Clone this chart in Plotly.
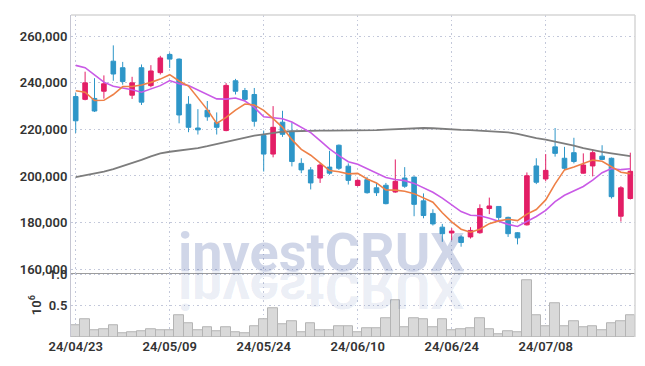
import plotly.graph_objects as go

dates = ["24/04/23", "24/04/24", "24/04/25", "24/04/26", "24/04/29", "24/04/30", "24/05/02", "24/05/03",
         "24/05/07", "24/05/08", "24/05/09", "24/05/10", "24/05/13", "24/05/14", "24/05/16", "24/05/17",
         "24/05/20", "24/05/21", "24/05/22", "24/05/23", "24/05/24", "24/05/27", "24/05/28", "24/05/29",
         "24/05/30", "24/05/31", "24/06/03", "24/06/04", "24/06/05", "24/06/07", "24/06/10", "24/06/11",
         "24/06/12", "24/06/13", "24/06/14", "24/06/17", "24/06/18", "24/06/19", "24/06/20", "24/06/21",
         "24/06/24", "24/06/25", "24/06/26", "24/06/27", "24/06/28", "24/07/01", "24/07/02", "24/07/03",
         "24/07/04", "24/07/05", "24/07/08", "24/07/09", "24/07/10", "24/07/11", "24/07/12", "24/07/15",
         "24/07/16", "24/07/17", "24/07/18", "24/07/19"]

open_ = [234100, 232900, 233300, 236400, 249300, 246500, 234700, 246500, 238800, 244400,
         252200, 250200, 230800, 220600, 228200, 223000, 219500, 240900, 236700, 235000,
         217400, 209400, 223100, 219200, 205400, 202600, 199100, 203800, 213200, 204200,
         195900, 198400, 194900, 196000, 193100, 199100, 199500, 189300, 183900, 178000,
         175500, 173800, 173800, 175600, 186000, 186900, 182200, 175600, 179000, 204300,
         198700, 212500, 207600, 210000, 201200, 204300, 208500, 207600, 182700, 190300]
high = [235700, 244800, 242000, 243200, 256100, 249000, 242600, 247900, 247600, 251600,
        252900, 250500, 234300, 228700, 232200, 227300, 239900, 241700, 237800, 237800,
        219500, 230000, 228000, 223000, 207600, 203800, 205500, 210800, 213500, 205400,
        198600, 199600, 197000, 197000, 207100, 203800, 199800, 192500, 185700, 179400,
        177600, 174500, 178000, 187800, 190700, 187000, 182500, 175900, 201500, 207600,
        209400, 220600, 212500, 216400, 209700, 211400, 213200, 207900, 195600, 210000]
low = [218500, 232500, 227500, 233200, 240900, 239200, 233100, 230500, 238100, 243600,
       246400, 222600, 218800, 217800, 223700, 217800, 219200, 235000, 232200, 221200,
       201900, 208000, 216800, 204100, 201200, 194200, 197000, 200500, 202600, 196300,
       195500, 192400, 191400, 187800, 192800, 194900, 182700, 181800, 178700, 171700,
       172400, 169600, 173100, 175200, 183600, 180800, 173800, 170600, 178700, 196500,
       197700, 208300, 202600, 205400, 201000, 199800, 206800, 190300, 180400, 189900]
close = [223700, 240000, 227900, 239600, 243800, 240600, 240000, 231700, 245100, 250700,
         250200, 226200, 220900, 219800, 225400, 220900, 238900, 236400, 232900, 223500,
         209400, 220900, 217900, 206200, 202600, 197000, 204700, 201200, 203300, 198100,
         198100, 192800, 192800, 188100, 197700, 195600, 187800, 183000, 179400, 175200,
         176300, 171400, 176600, 186000, 187100, 182200, 175200, 173400, 200100, 197300,
         202400, 209700, 203300, 206200, 204700, 210000, 207100, 191100, 194900, 202000]

ma5 = [236600, 236000, 232400, 232500, 235000, 238400, 238400, 239100, 240200, 241600,
       243500, 240800, 238600, 233600, 228500, 222600, 225200, 228300, 230900, 230500,
       228200, 224600, 220900, 215600, 211400, 208900, 205700, 202300, 201800, 200900,
       201100, 198700, 197000, 194000, 193900, 193400, 192400, 190400, 188700, 184200,
       180300, 177100, 175800, 177100, 179500, 180700, 181400, 180800, 183600, 185600,
       189700, 196600, 202600, 203800, 205300, 206800, 206300, 203800, 201600, 201000]
ma10 = [247500, 246500, 243400, 240300, 238500, 237800, 237000, 236000, 237500, 238800,
        241000, 239600, 238900, 236900, 235100, 233100, 233000, 233500, 232200, 229500,
        225400, 224900, 224600, 223200, 221000, 218600, 215200, 211600, 208700, 206100,
        205000, 203000, 201000, 199300, 198500, 198000, 196800, 195000, 193000, 190500,
        187500, 184700, 183100, 182900, 181800, 180500, 179200, 178300, 180400, 182600,
        185200, 189000, 191700, 193700, 195500, 198200, 201400, 203200, 202700, 203100]
ma_long = [199500, 200200, 201000, 201900, 202900, 204200, 205400, 206900, 208400, 209700,
           210400, 210900, 211400, 212000, 212800, 213700, 214700, 215600, 216400, 217300,
           217900, 218500, 219000, 219200, 219400, 219500, 219500, 219500, 219500, 219500,
           219500, 219600, 219700, 219900, 220100, 220400, 220500, 220600, 220500, 220200,
           220000, 219800, 219700, 219500, 219400, 219200, 218700, 218100, 217100, 216200,
           215600, 214800, 213900, 213000, 212000, 211100, 210300, 209700, 209000, 208500]

volume_m = [0.185, 0.277, 0.108, 0.123, 0.185, 0.062, 0.077, 0.092, 0.123, 0.108,
            0.108, 0.354, 0.215, 0.108, 0.154, 0.092, 0.154, 0.077, 0.062, 0.169,
            0.292, 0.462, 0.200, 0.246, 0.077, 0.215, 0.108, 0.108, 0.169, 0.169,
            0.077, 0.138, 0.138, 0.308, 0.585, 0.154, 0.308, 0.292, 0.154, 0.292,
            0.108, 0.123, 0.138, 0.308, 0.123, 0.046, 0.092, 0.077, 0.908, 0.343,
            0.174, 0.538, 0.174, 0.246, 0.154, 0.174, 0.108, 0.215, 0.246, 0.343]

price_ticks = [160000, 180000, 200000, 220000, 240000, 260000]
vol_ticks = [0.5, 1.0]
date_ticks = dates[::10]

PINK = "#e31e66"
BLUE = "#2e96c8"
GRID = "#c3c8da"
DASH = "1.5px,3px"
FONT = dict(family="Roboto, Arial, sans-serif", size=13, color="#333333", weight=600)

fig = go.Figure()
fig.add_trace(go.Candlestick(
    x=dates, open=open_, high=high, low=low, close=close,
    increasing=dict(line=dict(color=PINK, width=1), fillcolor=PINK),
    decreasing=dict(line=dict(color=BLUE, width=1), fillcolor=BLUE),
    xaxis="x", yaxis="y", showlegend=False, hoverinfo="skip"))
fig.add_trace(go.Scatter(x=dates, y=ma_long, mode="lines", line=dict(color="#7d7d7d", width=1.8),
                         xaxis="x", yaxis="y", showlegend=False, hoverinfo="skip"))
fig.add_trace(go.Scatter(x=dates, y=ma10, mode="lines", line=dict(color="#c95ae6", width=1.6),
                         xaxis="x", yaxis="y", showlegend=False, hoverinfo="skip"))
fig.add_trace(go.Scatter(x=dates, y=ma5, mode="lines", line=dict(color="#ee8047", width=1.6),
                         xaxis="x", yaxis="y", showlegend=False, hoverinfo="skip"))
fig.add_trace(go.Bar(x=dates, y=volume_m, marker=dict(color="#d9d9d9", line=dict(color="#b4b4b4", width=1)),
                     xaxis="x2", yaxis="y2", showlegend=False, hoverinfo="skip"))

VOL_FRAC = 0.198
fig.update_layout(
    width=645, height=366,
    margin=dict(l=71, r=10, t=9, b=29),
    paper_bgcolor="white", plot_bgcolor="white",
    font=FONT,
    bargap=0,
    xaxis=dict(domain=[0, 1], anchor="y", type="category", range=[-0.5, len(dates) - 0.5],
               tickvals=date_ticks, showticklabels=False, ticks="",
               showgrid=True, gridcolor=GRID, griddash=DASH, gridwidth=1,
               showline=True, linecolor="#9c9c9c", linewidth=1,
               rangeslider=dict(visible=False), zeroline=False),
    yaxis=dict(domain=[VOL_FRAC, 1], anchor="x", range=[158200, 269150],
               tickvals=price_ticks, tickformat=",d", ticks="",
               showgrid=True, gridcolor=GRID, griddash=DASH, gridwidth=1,
               showline=True, linecolor="#c6c6d2", linewidth=1, zeroline=False),
    xaxis2=dict(domain=[0, 1], anchor="y2", type="category", range=[-0.5, len(dates) - 0.5],
                tickvals=date_ticks, ticktext=date_ticks, ticks="",
                showgrid=True, gridcolor=GRID, griddash=DASH, gridwidth=1,
                showline=False, zeroline=False),
    yaxis2=dict(domain=[0, VOL_FRAC], anchor="x2", range=[0, 1.02],
                tickvals=vol_ticks, tickformat=".1f", ticks="",
                showgrid=True, gridcolor=GRID, griddash=DASH, gridwidth=1,
                showline=True, linecolor="#c6c6d2", linewidth=1, zeroline=False,
                title=dict(text="10<sup>6</sup>", standoff=4,
                           font=dict(family="Roboto, Arial, sans-serif", size=13, color="#333333"))),
    shapes=[
        dict(type="line", xref="paper", yref="paper", x0=0, x1=1, y0=1, y1=1,
             line=dict(color="#d6d6d6", width=1.5)),
        dict(type="line", xref="paper", yref="paper", x0=1, x1=1, y0=0, y1=1,
             line=dict(color="#d6d6d6", width=1.5)),
    ],
    annotations=[
        dict(text="investCRUX", xref="paper", yref="paper", x=0.444, y=0.159,
             xanchor="center", yanchor="bottom", showarrow=False,
             font=dict(family="Roboto, Arial, sans-serif", size=54, weight=700,
                       color="rgba(60,85,160,0.24)")),
        dict(text="investCRUX", xref="paper", yref="paper", x=0.444, y=0.159,
             xanchor="center", yanchor="bottom", showarrow=False,
             font=dict(family="Roboto, Arial, sans-serif", size=54, weight=700,
                       color="rgba(60,85,160,0.11)")),
    ],
)

post = """
document.body.style.margin = '0';
var gd = document.getElementById('{plot_id}');
var g = gd.querySelector('g.annotation[data-index="1"] text.annotation-text');
if (g) {
  var y = parseFloat(g.getAttribute('y') || '0');
  g.setAttribute('transform', 'translate(0,' + (2 * y) + ') scale(1,-1)');
}
"""

fig.write_html("out.html", post_script=post, config={"displayModeBar": False})
